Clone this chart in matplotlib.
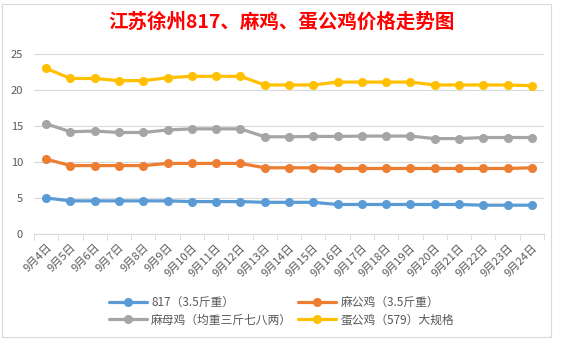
import matplotlib
matplotlib.use('Agg')
import matplotlib.pyplot as plt
from matplotlib.patches import Rectangle

plt.rcParams['font.family'] = ['Noto Sans CJK SC', 'DejaVu Sans']

# dates and prices
days = ['9月4日', '9月5日', '9月6日', '9月7日', '9月8日', '9月9日', '9月10日',
        '9月11日', '9月12日', '9月13日', '9月14日', '9月15日', '9月16日', '9月17日',
        '9月18日', '9月19日', '9月20日', '9月21日', '9月22日', '9月23日', '9月24日']

p817 = [5.0, 4.6, 4.6, 4.6, 4.6, 4.6, 4.5, 4.5, 4.5, 4.4, 4.4,
        4.4, 4.1, 4.1, 4.1, 4.1, 4.1, 4.1, 4.0, 4.0, 4.0]
ma_gong = [10.4, 9.5, 9.5, 9.5, 9.5, 9.8, 9.8, 9.8, 9.8, 9.2, 9.2,
           9.2, 9.1, 9.1, 9.1, 9.1, 9.1, 9.1, 9.1, 9.1, 9.2]
ma_mu = [15.3, 14.2, 14.3, 14.1, 14.1, 14.45, 14.6, 14.6, 14.6, 13.5, 13.5,
         13.55, 13.55, 13.6, 13.6, 13.6, 13.25, 13.25, 13.4, 13.4, 13.4]
dan_gong = [23.0, 21.6, 21.6, 21.3, 21.3, 21.7, 21.9, 21.9, 21.9, 20.7, 20.7,
            20.7, 21.1, 21.1, 21.1, 21.1, 20.7, 20.7, 20.7, 20.7, 20.6]

names = ['817（3.5斤重）', '麻公鸡（3.5斤重）', '麻母鸡（均重三斤七八两）', '蛋公鸡（579）大规格']
colors = ['#5B9BD5', '#ED7D31', '#A5A5A5', '#FFC000']
series = [p817, ma_gong, ma_mu, dan_gong]

W, H = 563, 345
fig = plt.figure(figsize=(W / 100, H / 100), dpi=100)
fig.patch.set_facecolor('white')

# chart border
fig.patches.append(Rectangle((2 / W, 8 / H), 549 / W, 333 / H, transform=fig.transFigure,
                             fill=False, edgecolor='#d9d9d9', lw=0.8))

ax = fig.add_axes([34 / W, (H - 234) / H, 510 / W, 180 / H])
x = list(range(len(days)))
lines = []
for vals, c, n in zip(series, colors, names):
    ln, = ax.plot(x, vals, color=c, lw=2.3, marker='o', ms=5.5, label=n, solid_capstyle='round')
    lines.append(ln)

ax.set_ylim(0, 25)
ax.set_yticks([0, 5, 10, 15, 20, 25])
ax.set_xlim(-0.5, len(days) - 0.5)
ax.set_xticks(x)
ax.set_xticklabels(days, rotation=45, ha='right', va='top', rotation_mode='anchor')
ax.set_xticks([i - 0.5 for i in range(len(days) + 1)], minor=True)
ax.tick_params(axis='x', which='major', length=0, pad=6, labelsize=8, labelcolor='#595959')
ax.tick_params(axis='x', which='minor', length=4, color='#d9d9d9')
ax.tick_params(axis='y', length=0, pad=8, labelsize=8, labelcolor='#595959')

ax.grid(axis='y', color='#d9d9d9', lw=0.8)
ax.set_axisbelow(True)
for s in ['top', 'right', 'left']:
    ax.spines[s].set_visible(False)
ax.spines['bottom'].set_color('#d9d9d9')

fig.text(0.5, 1 - 22 / H, '江苏徐州817、麻鸡、蛋公鸡价格走势图', ha='center', va='center',
         color='red', fontsize=14, fontweight='bold')

# legend fills column-wise, so reorder to get rows like the original
order = [0, 2, 1, 3]
fig.legend([lines[i] for i in order], [names[i] for i in order],
           loc='center', bbox_to_anchor=(0.5, 1 - 311 / H), ncol=2, frameon=False,
           fontsize=8.5, handlelength=3.2, columnspacing=0.5, labelspacing=0.4,
           handletextpad=0.4, labelcolor='#595959')

fig.savefig('out.png', dpi=100)
